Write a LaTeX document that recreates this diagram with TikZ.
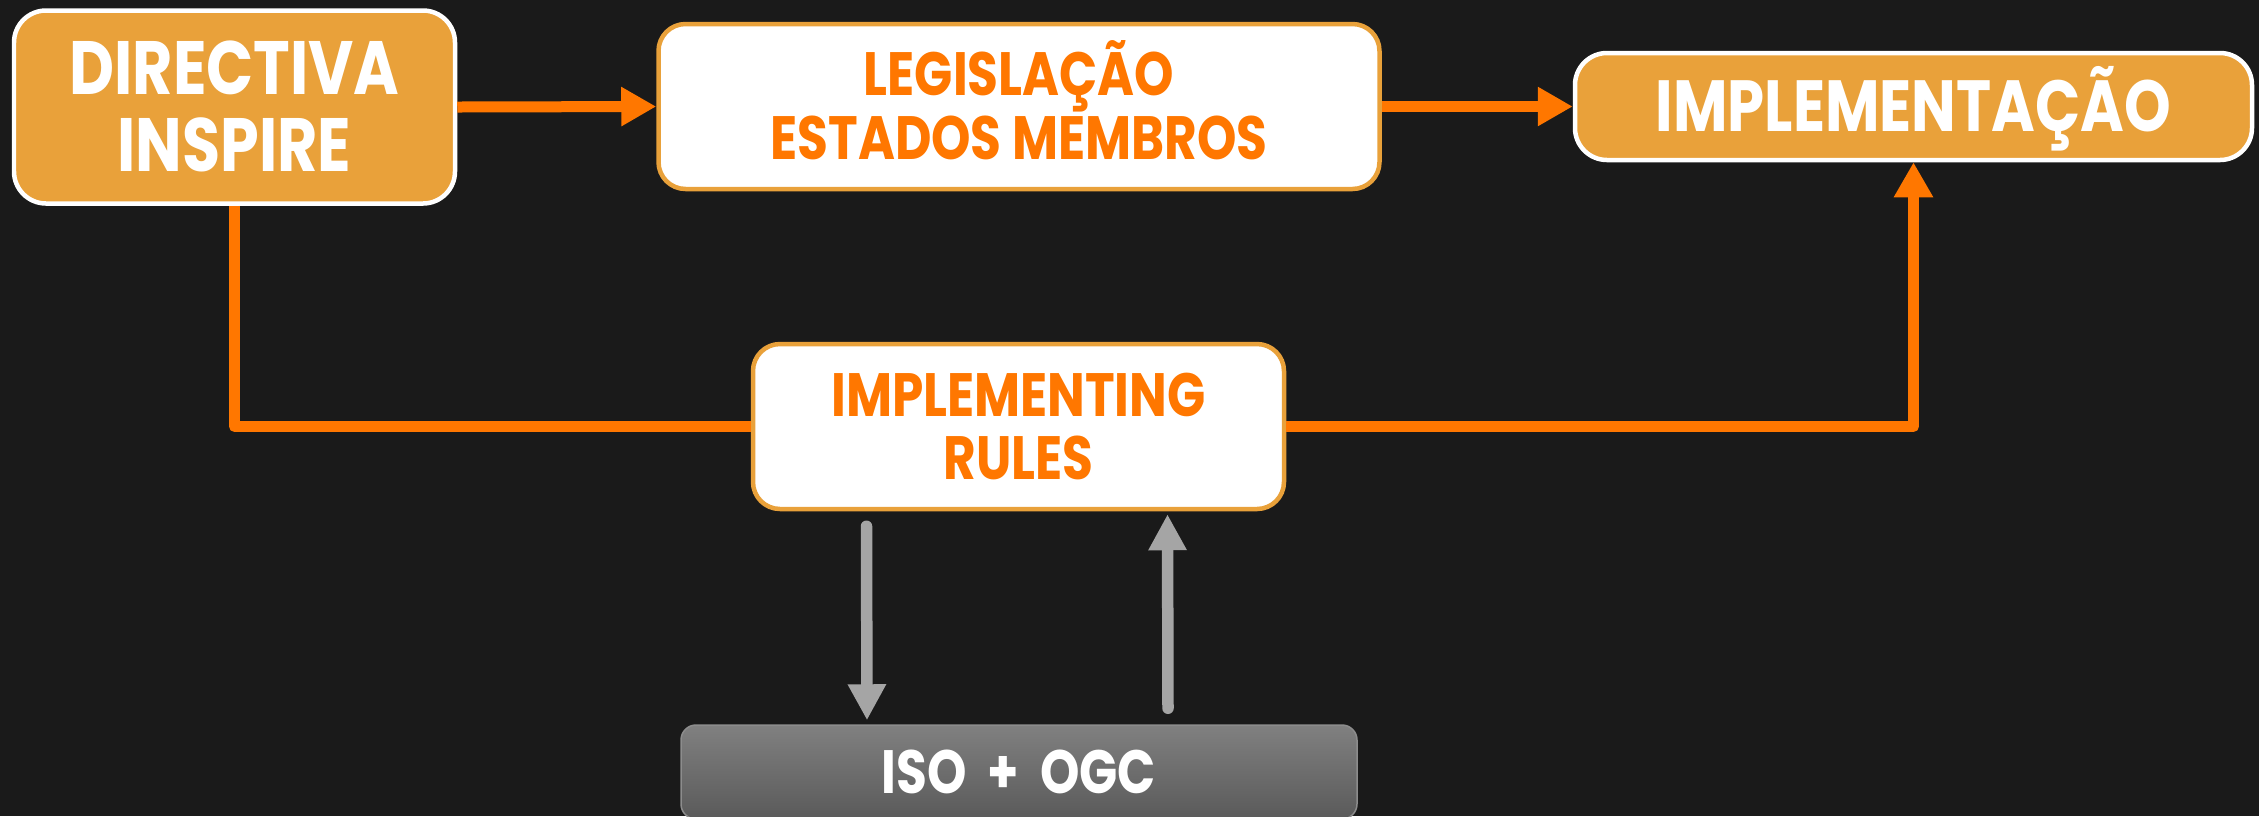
\documentclass[tikz,border=0pt]{standalone}
\usepackage{fontspec}
\newfontfamily\gothic{Poppins}[FakeStretch=0.82]
\usetikzlibrary{arrows.meta}
\definecolor{bg}{HTML}{1A1A1A}
\definecolor{gold}{HTML}{E9A13A}
\definecolor{orng}{HTML}{FF7700}
\definecolor{arrowgray}{HTML}{A5A5A5}
\definecolor{isotop}{HTML}{808080}
\definecolor{isobot}{HTML}{5A5A5A}
\definecolor{isoedge}{HTML}{8C8C8C}
% first line without accent height, so the block sits centred
\newcommand{\capline}[1]{\smash{#1}\vphantom{X}}
\begin{document}
\begin{tikzpicture}[
	bigfont/.style={font=\gothic\bfseries\fontsize{21.5}{21.9}\selectfont},
	smallfont/.style={font=\gothic\bfseries\fontsize{17.4}{18.2}\selectfont},
	goldbox/.style={draw=white, line width=0.045cm, fill=gold, rounded corners=0.32cm, text=white, align=center, inner sep=0pt, bigfont},
	whitebox/.style={draw=gold, line width=0.045cm, fill=white, rounded corners=0.27cm, text=orng, align=center, inner sep=0pt, smallfont},
	isobox/.style={draw=isoedge, line width=0.015cm, top color=isotop, bottom color=isobot, rounded corners=0.15cm, text=white, inner sep=0pt, smallfont},
	flow/.style={draw=orng, line width=0.11cm, line join=round, -{Triangle[length=0.35cm,width=0.37cm]}},
	feedback/.style={draw=arrowgray, line width=0.115cm, line cap=round, -{Triangle[length=0.36cm,width=0.36cm]}}
]
	\useasboundingbox (0,0) rectangle (22.59,-8.16);
	\clip (0,0) rectangle (22.59,-8.16);
	\fill[bg] (0,0) rectangle (22.59,-8.16);

	\node[goldbox, minimum width=4.41cm, minimum height=1.93cm] (dir) at (2.345,-1.07) {\capline{DIRECTIVA}\\INSPIRE};
	\node[whitebox, minimum width=7.21cm, minimum height=1.65cm] (leg) at (10.19,-1.065) {\capline{LEGISLAÇÃO}\\ESTADOS MEMBROS};
	\node[goldbox, minimum width=6.77cm, minimum height=1.07cm, font=\gothic\bfseries\fontsize{20.6}{21}\selectfont] (impl) at (19.135,-1.065) {\capline{IMPLEMENTAÇÃO}};
	\node[whitebox, minimum width=5.31cm, minimum height=1.65cm] (rules) at (10.185,-4.265) {IMPLEMENTING\\RULES};
	\node[isobox, minimum width=6.76cm, minimum height=0.94cm] (iso) at (10.19,-7.72) {ISO \,+\, OGC};

	\draw[flow] (dir.east) -- (leg.west);
	\draw[flow] (leg.east) -- (impl.west);
	\draw[orng, line width=0.11cm, line join=round] (dir.south) |- (rules.west);
	\draw[flow] (rules.east) -| (impl.south);

	\draw[feedback] ([xshift=-1.52cm,yshift=-0.15cm]rules.south) -- ([xshift=-1.52cm,yshift=0.04cm]iso.north);
	\draw[feedback] ([xshift=1.49cm,yshift=0.16cm]iso.north) -- ([xshift=1.49cm,yshift=-0.03cm]rules.south);
\end{tikzpicture}
\end{document}
